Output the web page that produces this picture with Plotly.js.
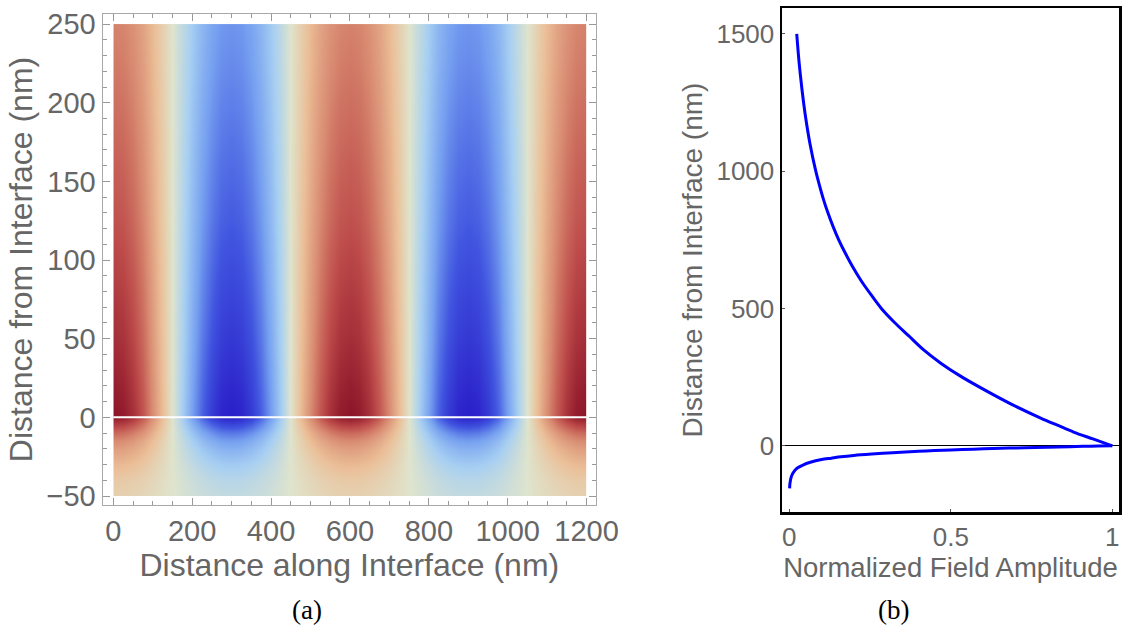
<!DOCTYPE html>
<html>
<head>
<meta charset="utf-8">
<script src="https://cdn.plot.ly/plotly-3.0.1.min.js"></script>
<style>html,body{margin:0;padding:0;background:#fff;}#chart{width:1127px;height:626px;}</style>
</head>
<body>
<div id="chart"></div>
<script>
// ---- (a) field map: profile along the interface and decay away from it
const alongX = [0,25,50,75,100,125,150,175,200,225,250,275,300,325,350,375,400,425,450,475,500,525,550,575,600,
                625,650,675,700,725,750,775,800,825,850,875,900,925,950,975,1000,1025,1050,1075,1100,1125,1150,1175,1200];
const alongProfile = [1,0.97,0.87,0.71,0.5,0.26,0,-0.26,-0.5,-0.71,-0.87,-0.97,-1,-0.97,-0.87,-0.71,-0.5,-0.26,0,0.26,0.5,0.71,0.87,0.97,1,
                      0.97,0.87,0.71,0.5,0.26,0,-0.26,-0.5,-0.71,-0.87,-0.97,-1,-0.97,-0.87,-0.71,-0.5,-0.26,0,0.26,0.5,0.71,0.87,0.97,1];
const heightY = [-50,-40,-30,-20,-15,-10,-5,-2,0,25,50,75,100,125,150,175,200,225,250];
const heightProfile = [0.13,0.18,0.27,0.41,0.5,0.63,0.8,0.91,1,0.94,0.88,0.83,0.78,0.73,0.69,0.65,0.61,0.57,0.54];

// ---- (b) normalized field amplitude vs distance from interface
const aboveDist = [1500,1400,1300,1200,1100,1000,950,900,850,800,750,700,650,600,550,500,450,400,350,300,250,200,150,100,75,50,25,0];
const aboveAmp = [0.023,0.03,0.039,0.05,0.064,0.082,0.093,0.105,0.119,0.135,0.153,0.174,0.197,0.223,0.253,0.285,0.325,0.37,0.415,0.47,0.535,0.61,0.69,0.78,0.83,0.88,0.94,1.0];
const belowDist = [0,-1,-2,-3,-5,-7,-10,-12.5,-15,-17.5,-20,-25,-30,-35,-40,-45,-50,-60,-70,-80,-90,-100,-110,-120,-130,-140,-155];
const belowAmp = [1.0,0.955,0.91,0.87,0.80,0.73,0.63,0.57,0.5,0.45,0.40,0.32,0.255,0.2,0.16,0.13,0.10,0.065,0.042,0.026,0.017,0.011,0.007,0.0045,0.003,0.0017,0.001];

const xTicksA = [0,200,400,600,800,1000,1200];
const yTicksA = [-50,0,50,100,150,200,250];
const xTicksB = [0,0.5,1];
const xTickTextB = ['0','0.5','1'];
const yTicksB = [0,500,1000,1500];

const zGrid = heightProfile.map(h => alongProfile.map(a => a * h));

const W = 1127, H = 626;
const FONT = 'Liberation Sans, Arial, sans-serif';
const GRAY = '#666666';

const traces = [
  {
    type: 'contour', x: alongX, y: heightY, z: zGrid,
    zmin: -1, zmax: 1, zauto: false, showscale: false,
    contours: {coloring: 'heatmap', showlines: false},
    line: {width: 0}, ncontours: 30,
    colorscale: [
      [0, '#2a1ec8'], [0.125, '#4054df'], [0.25, '#76a0f0'], [0.375, '#a8d0f2'],
      [0.5, '#dfe4cd'], [0.625, '#ebbf98'], [0.75, '#d98c72'], [0.875, '#bd4b4a'], [1, '#8c1428']
    ],
    hoverinfo: 'skip', xaxis: 'x', yaxis: 'y'
  },
  {
    type: 'scatter', mode: 'lines', x: aboveAmp, y: aboveDist,
    line: {color: '#0000ff', width: 3, shape: 'spline', smoothing: 0.8}, xaxis: 'x2', yaxis: 'y2', showlegend: false
  },
  {
    type: 'scatter', mode: 'lines', x: belowAmp, y: belowDist,
    line: {color: '#0000ff', width: 3, shape: 'spline', smoothing: 0.8}, xaxis: 'x2', yaxis: 'y2', showlegend: false
  }
];

const px = (a, b) => [a / W, b / W];
const py = (top, bottom) => [1 - bottom / H, 1 - top / H];

const layout = {
  width: W, height: H, margin: {l: 0, r: 0, t: 0, b: 0},
  paper_bgcolor: '#fff', plot_bgcolor: '#fff', showlegend: false,
  font: {family: FONT, color: GRAY},
  xaxis: {
    domain: px(102.5, 596.2), range: [-27.4, 1224.4], anchor: 'y',
    tickvals: xTicksA, ticks: 'inside', ticklen: 7, tickcolor: '#999', tickwidth: 1,
    minor: {dtick: 50, tick0: 0, ticks: 'inside', ticklen: 4, tickcolor: '#999', showgrid: false},
    showline: true, linecolor: '#a8a8a8', linewidth: 1, mirror: 'allticks',
    showgrid: false, zeroline: false, tickfont: {size: 29, color: GRAY},
    title: {text: 'Distance along Interface (nm)', font: {size: 32, color: GRAY}, standoff: 3}
  },
  yaxis: {
    domain: py(14, 505), range: [-55.7, 256.4], anchor: 'x',
    tickvals: yTicksA, ticks: 'inside', ticklen: 7, tickcolor: '#999', tickwidth: 1,
    minor: {dtick: 10, tick0: 0, ticks: 'inside', ticklen: 4, tickcolor: '#999', showgrid: false},
    showline: true, linecolor: '#a8a8a8', linewidth: 1, mirror: 'allticks',
    showgrid: false, zeroline: false, tickfont: {size: 29, color: GRAY},
    title: {text: 'Distance from Interface (nm)', font: {size: 32, color: GRAY}, standoff: 4}
  },
  xaxis2: {
    domain: px(782, 1119), range: [-0.0226, 1.0207], anchor: 'y2',
    tickvals: xTicksB, ticktext: xTickTextB, ticks: 'inside', ticklen: 3, tickcolor: '#555',
    showline: true, linecolor: '#000', linewidth: 2.5, mirror: true,
    showgrid: false, zeroline: false, tickfont: {size: 26, color: GRAY},
    title: {text: 'Normalized Field Amplitude', font: {size: 27.5, color: GRAY}, standoff: 6}
  },
  yaxis2: {
    domain: py(8, 512), range: [-241, 1594], anchor: 'x2',
    tickvals: yTicksB, ticks: 'inside', ticklen: 3, tickcolor: '#555',
    showline: true, linecolor: '#000', linewidth: 2.5, mirror: true,
    showgrid: false, zeroline: true, zerolinecolor: '#000', zerolinewidth: 1,
    tickfont: {size: 26, color: GRAY},
    title: {text: 'Distance from Interface (nm)', font: {size: 28, color: GRAY}, standoff: 6}
  },
  shapes: [
    {type: 'line', xref: 'x', yref: 'y', x0: alongX[0], x1: alongX[alongX.length - 1], y0: 0, y1: 0,
     line: {color: '#ffffff', width: 2}, layer: 'above'}
  ],
  annotations: [
    {text: '(a)', xref: 'paper', yref: 'paper', x: 307 / W, y: 1 - 610 / H, showarrow: false,
     xanchor: 'center', yanchor: 'middle', font: {family: 'Liberation Serif, DejaVu Serif, serif', size: 27, color: '#000'}},
    {text: '(b)', xref: 'paper', yref: 'paper', x: 893 / W, y: 1 - 610 / H, showarrow: false,
     xanchor: 'center', yanchor: 'middle', font: {family: 'Liberation Serif, DejaVu Serif, serif', size: 27, color: '#000'}}
  ]
};

Plotly.newPlot('chart', traces, layout, {staticPlot: true, displayModeBar: false});
</script>
</body>
</html>
